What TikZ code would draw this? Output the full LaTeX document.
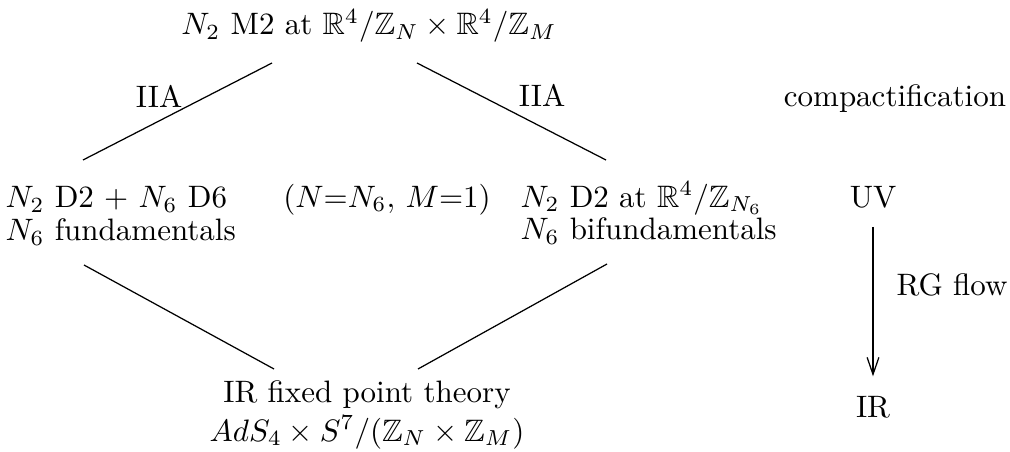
\documentclass[tikz,border=0pt]{standalone}
\usepackage{amssymb}
\usetikzlibrary{arrows.meta}
\begin{document}
\begin{tikzpicture}[x=0.3226pt,y=-0.3226pt,
  txt/.style={inner sep=0pt},
  edge/.style={line width=0.4pt}]
\useasboundingbox (0,0) rectangle (1010,452);
% texts
\node[txt,anchor=base] (top) at (369,35) {$N_2$ M2 at $\mathbb{R}^4/\mathbb{Z}_N\times\mathbb{R}^4/\mathbb{Z}_M$};
\node[txt,anchor=base] (iiaL) at (159,108) {IIA};
\node[txt,anchor=base] (iiaR) at (542,107) {IIA};
\node[txt,anchor=base] (comp) at (895,107) {compactification};
\node[txt,anchor=base west] (leftA) at (5,208) {$N_2$ D2 + $N_6$ D6};
\node[txt,anchor=base west] (leftB) at (5,241) {$N_6$ fundamentals};
\node[txt,anchor=base] (mid) at (387,207) {$(N{=}N_6,\, M{=}1)$};
\node[txt,anchor=base west] (rightA) at (520,207) {$N_2$ D2 at $\mathbb{R}^4/\mathbb{Z}_{N_6}$};
\node[txt,anchor=base west] (rightB) at (520,240) {$N_6$ bifundamentals};
\node[txt,anchor=base] (uv) at (873,207) {UV};
\node[txt,anchor=base] (ir) at (873,417) {IR};
\node[txt,anchor=base west] (rg) at (896,295) {RG flow};
\node[txt,anchor=base] (botA) at (367,402) {IR fixed point theory};
\node[txt,anchor=base] (botB) at (367,441) {$AdS_4\times S^7/(\mathbb{Z}_N\times\mathbb{Z}_M)$};
% connector end points
\coordinate (tL) at (272,63);
\coordinate (lT) at (83,160);
\coordinate (tR) at (417,63);
\coordinate (rT) at (606,160);
\coordinate (lB) at (84,265);
\coordinate (bL) at (274,369);
\coordinate (rB) at (607,264);
\coordinate (bR) at (418,369);
\draw[edge] (tL) -- (lT);
\draw[edge] (tR) -- (rT);
\draw[edge] (lB) -- (bL);
\draw[edge] (rB) -- (bR);
\draw[edge,-{Straight Barb[length=5.5pt,width=3.8pt]},shorten <=6pt,shorten >=6.1pt] (uv.south) -- (ir.north);
\end{tikzpicture}
\end{document}
